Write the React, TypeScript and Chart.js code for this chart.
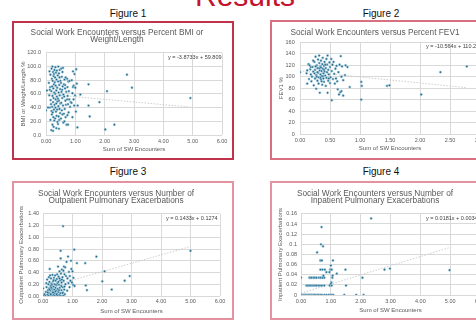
import React, { useEffect, useRef } from "react";
import { Chart, registerables } from "chart.js";

Chart.register(...registerables);

const FONT = '"Liberation Sans", Arial, Helvetica, sans-serif';

const pageTitle = "Results";
const figureLabels = ["Figure 1", "Figure 2", "Figure 3", "Figure 4"];
const xAxisTitle = "Sum of SW Encounters";

// ---------- Figure 1 ----------
const fig1Title = ["Social Work Encounters versus Percent BMI or", "Weight/Length"];
const fig1YTitle = "BMI or Weight/Length %";
const fig1Equation = "y = -3.8733x + 59.809";
const fig1Slope = -3.8733;
const fig1Intercept = 59.809;
const fig1XTicks = [0, 6, 1];
const fig1YTicks = [0, 120, 20];
const fig1Points: [number, number][] = [
  [0.12, 93], [0.15, 88], [0.1, 76], [0.14, 70], [0.18, 64], [0.11, 58], [0.16, 51], [0.13, 40],
  [0.19, 35], [0.17, 45], [0.2, 30], [0.15, 22], [0.18, 7], [0.2, 82], [0.19, 97], [0.13, 66],
  [0.22, 100], [0.24, 92], [0.26, 86], [0.23, 79], [0.27, 74], [0.21, 71], [0.25, 68], [0.28, 62],
  [0.22, 57], [0.26, 54], [0.24, 48], [0.29, 44], [0.21, 41], [0.27, 37], [0.23, 33], [0.25, 26],
  [0.28, 21], [0.22, 15], [0.26, 12], [0.24, 6], [0.29, 95], [0.27, 89], [0.3, 77],
  [0.32, 99], [0.34, 91], [0.31, 84], [0.36, 81], [0.33, 72], [0.38, 69], [0.35, 65], [0.31, 60],
  [0.37, 56], [0.33, 52], [0.39, 49], [0.35, 46], [0.32, 40], [0.38, 37], [0.34, 34], [0.36, 28],
  [0.31, 24], [0.39, 19], [0.35, 10], [0.4, 87], [0.37, 94],
  [0.42, 100], [0.44, 90], [0.46, 84], [0.41, 78], [0.45, 73], [0.48, 67], [0.43, 62], [0.47, 58],
  [0.41, 53], [0.44, 50], [0.49, 46], [0.42, 42], [0.46, 38], [0.48, 32], [0.43, 27], [0.45, 22],
  [0.41, 16], [0.44, 9], [0.49, 79], [0.47, 95],
  [0.52, 97], [0.56, 92], [0.58, 98], [0.54, 85], [0.51, 76], [0.57, 71], [0.53, 63], [0.59, 59],
  [0.55, 54], [0.52, 47], [0.58, 43], [0.54, 36], [0.56, 30], [0.51, 24], [0.59, 18], [0.55, 66],
  [0.63, 81], [0.67, 84], [0.61, 74], [0.65, 68], [0.69, 63], [0.62, 56], [0.66, 50], [0.68, 44],
  [0.64, 38], [0.61, 31], [0.67, 26], [0.63, 20], [0.7, 15], [0.65, 73],
  [0.72, 82], [0.76, 78], [0.73, 70], [0.78, 64], [0.74, 57], [0.72, 52], [0.79, 52], [0.75, 45],
  [0.82, 41], [0.77, 33], [0.73, 29], [0.8, 79], [0.84, 48],
  [0.88, 80], [0.92, 93], [0.97, 89], [0.94, 72], [0.92, 70], [0.9, 61], [0.94, 52], [0.87, 47],
  [0.96, 43], [1.0, 69], [1.03, 96], [1.05, 75], [1.02, 34], [1.08, 43], [1.07, 11], [1.17, 59],
  [0.99, 58], [0.9, 26],
  [0.0, 36], [0.03, 65], [0.07, 40],
  [1.45, 74], [1.45, 43], [1.49, 27], [1.82, 48], [2.08, 64], [2.02, 8], [2.33, 15], [2.76, 88],
  [2.93, 69], [4.92, 54], [0.75, 15],
];

// ---------- Figure 2 ----------
const fig2Title = ["Social Work Encounters versus Percent FEV1"];
const fig2YTitle = "FEV1 %";
const fig2Equation = "y = -10.564x + 110.26";
const fig2Slope = -10.564;
const fig2Intercept = 110.26;
const fig2XTicks = [0, 3, 0.5];
const fig2YTicks = [0, 160, 20];
const fig2Points: [number, number][] = [
  [0.0, 108], [0.12, 88], [0.12, 111], [0.11, 106], [0.14, 122], [0.16, 120], [0.15, 96], [0.17, 113],
  [0.18, 104], [0.2, 100], [0.19, 92], [0.21, 117], [0.22, 109], [0.23, 85], [0.24, 126], [0.25, 112],
  [0.25, 97], [0.26, 135], [0.27, 103], [0.27, 79], [0.28, 120], [0.29, 115], [0.29, 93], [0.3, 130],
  [0.3, 107], [0.31, 99], [0.31, 88], [0.32, 137], [0.32, 124], [0.33, 111], [0.33, 72], [0.34, 104],
  [0.34, 118], [0.35, 95], [0.35, 128], [0.36, 110], [0.36, 101], [0.37, 86], [0.37, 122], [0.38, 114],
  [0.38, 133], [0.39, 106], [0.39, 97], [0.4, 119], [0.4, 91], [0.41, 109], [0.41, 126], [0.42, 102],
  [0.43, 115], [0.43, 84], [0.44, 98], [0.45, 121], [0.45, 108], [0.46, 137], [0.46, 72], [0.47, 93],
  [0.47, 112], [0.48, 104], [0.49, 125], [0.5, 89], [0.5, 117], [0.51, 99], [0.52, 131], [0.53, 59],
  [0.53, 110], [0.54, 121], [0.55, 96], [0.56, 126], [0.57, 105], [0.58, 88], [0.59, 114], [0.6, 97],
  [0.61, 119], [0.62, 92], [0.63, 78], [0.64, 108], [0.65, 69], [0.66, 121], [0.67, 73], [0.68, 136],
  [0.69, 75], [0.69, 100], [0.7, 118], [0.72, 67], [0.72, 94], [0.75, 103], [0.76, 120], [0.79, 117],
  [0.83, 82], [1.02, 91], [1.03, 84], [1.02, 60], [1.45, 84], [1.49, 85], [2.02, 69], [2.34, 108],
  [2.78, 118],
  [0.22, 128], [0.18, 117], [0.26, 118], [0.28, 100], [0.32, 115], [0.36, 92], [0.4, 112], [0.44, 131],
  [0.48, 97], [0.24, 106], [0.29, 108], [0.34, 98], [0.38, 101], [0.42, 121], [0.35, 116],
];

// ---------- Figure 3 ----------
const fig3Title = ["Social Work Encounters versus Number of", "Outpatient Pulmonary Exacerbations"];
const fig3YTitle = "Outpatient Pulmonary Exacerbations";
const fig3Equation = "y = 0.1433x + 0.1274";
const fig3Slope = 0.1433;
const fig3Intercept = 0.1274;
const fig3XTicks = [0, 6, 1];
const fig3YTicks = [0, 1.4, 0.2];
const fig3Points: [number, number][] = [
  [0, 0.01], [0, 0.13], [0.05, 0.03], [0.08, 0.0], [0.1, 0.07], [0.12, 0.15], [0.14, 0.28], [0.15, 0.02],
  [0.17, 0.1], [0.18, 0.2], [0.2, 0.05], [0.21, 0.13], [0.22, 0.24], [0.23, 0.46], [0.24, 0.0], [0.25, 0.09],
  [0.26, 0.17], [0.27, 0.3], [0.28, 0.04], [0.29, 0.21], [0.3, 0.12], [0.31, 0.0], [0.32, 0.36], [0.33, 0.08],
  [0.34, 0.25], [0.35, 0.16], [0.36, 0.02], [0.37, 0.31], [0.38, 0.11], [0.39, 0.2], [0.4, 0.05], [0.41, 0.35],
  [0.42, 0.14], [0.43, 0.26], [0.44, 0.0], [0.45, 0.09], [0.46, 0.18], [0.47, 0.29], [0.48, 0.04], [0.49, 0.22],
  [0.5, 0.12], [0.51, 0.5], [0.52, 0.07], [0.53, 0.33], [0.54, 0.19], [0.55, 0.02], [0.56, 0.42], [0.57, 0.14],
  [0.58, 0.27], [0.59, 0.05], [0.6, 0.64], [0.6, 0.77], [0.61, 0.38], [0.62, 0.1], [0.63, 0.23], [0.64, 0.45],
  [0.65, 0.0], [0.66, 0.32], [0.67, 0.15], [0.68, 1.19], [0.68, 0.06], [0.69, 0.43], [0.7, 0.26], [0.71, 0.5],
  [0.72, 0.11], [0.73, 0.37], [0.74, 0.03], [0.75, 0.49], [0.76, 0.2], [0.78, 0.34], [0.8, 0.58], [0.82, 0.09],
  [0.83, 0.3], [0.85, 0.67], [0.86, 0.22], [0.88, 0.41], [0.9, 0.15], [0.91, 0.34], [0.93, 0.26], [0.95, 0.6],
  [0.96, 0.46], [0.98, 0.23], [1.0, 0.42], [1.02, 0.19], [1.03, 0.31], [1.06, 0.79], [1.07, 0.17], [1.15, 0.56],
  [1.43, 0.56], [1.45, 0.18], [1.49, 0.1], [1.81, 0.67], [2.01, 0.25], [2.09, 0.42], [2.33, 0.11], [2.77, 0.26],
  [2.94, 0.34], [5.0, 0.77],
  [0.16, 0.06], [0.19, 0.0], [0.22, 0.11], [0.26, 0.03], [0.3, 0.19], [0.34, 0.06], [0.38, 0.0], [0.42, 0.08],
  [0.46, 0.03], [0.5, 0.0], [0.54, 0.1], [0.58, 0.0], [0.62, 0.17], [0.66, 0.05], [0.7, 0.0], [0.73, 0.16],
  [0.24, 0.35], [0.28, 0.14], [0.36, 0.27], [0.44, 0.19], [0.48, 0.37], [0.52, 0.24], [0.56, 0.3], [0.64, 0.28],
  [0.11, 0.22], [0.2, 0.32],
];

// ---------- Figure 4 ----------
const fig4Title = ["Social Work Encounters versus Number of", "Inpatient Pulmonary Exacerbations"];
const fig4YTitle = "Inpatient Pulmonary Exacerbations";
const fig4Equation = "y = 0.0181x + 0.0034";
const fig4Slope = 0.0181;
const fig4Intercept = 0.0034;
const fig4XTicks = [0, 6, 1];
const fig4YTicks = [0, 0.16, 0.02];
const fig4Points: [number, number][] = [
  [0.0, 0], [0.03, 0], [0.08, 0], [0.12, 0], [0.15, 0], [0.18, 0], [0.22, 0], [0.25, 0], [0.28, 0], [0.32, 0],
  [0.35, 0], [0.38, 0], [0.42, 0], [0.45, 0], [0.5, 0], [0.55, 0], [0.6, 0], [0.65, 0], [0.7, 0], [0.78, 0],
  [0.85, 0], [0.92, 0], [0.98, 0], [1.03, 0], [1.08, 0], [1.45, 0], [1.85, 0], [2.1, 0],
  [0.18, 0.0185], [0.21, 0.0185], [0.25, 0.0185], [0.3, 0.0185], [0.34, 0.0185], [0.4, 0.0185], [0.44, 0.0185],
  [0.48, 0.0185], [0.52, 0.0185], [0.58, 0.0185], [0.64, 0.0185], [0.7, 0.0185], [0.78, 0.0185], [0.96, 0.0185],
  [1.03, 0.0185], [1.51, 0.0185],
  [0.0, 0.034], [0.28, 0.034], [0.31, 0.034], [0.36, 0.034], [0.42, 0.034], [0.47, 0.034], [0.52, 0.034],
  [0.6, 0.034], [0.66, 0.034], [0.72, 0.034], [0.78, 0.034], [1.05, 0.034], [2.06, 0.034],
  [0.65, 0.05], [0.72, 0.05], [0.8, 0.05], [0.98, 0.05], [1.03, 0.05], [1.49, 0.05], [2.8, 0.05],
  [2.98, 0.052], [4.98, 0.049], [1.2, 0.042], [1.0, 0.058], [0.65, 0.068], [0.7, 0.068], [1.07, 0.068],
  [0.54, 0.084], [0.67, 0.1], [0.74, 0.096], [0.69, 0.134], [2.35, 0.151], [0.95, 0.045], [1.02, 0.025],
  [1.0, 0.022], [0.85, 0.045], [1.06, 0.038], [0.75, 0.038],
];

const fmt1 = (v: number) => v.toFixed(1);
const fmt2 = (v: number) => v.toFixed(2);
const fmtInt = (v: number) => String(Math.round(v));
const fmtGeneral = (v: number) => String(parseFloat(v.toFixed(2)));

type Layout = {
  left: number; top: number; w: number; h: number; border: string;
  yW: number; xH: number; right: number; titleTop: number; titleBottom: number;
  yTitlePad: number; yTickPad: number; xTickPad: number; xTitlePad: number;
};

type Spec = {
  title: string[]; yTitle: string; equation: string; slope: number; intercept: number;
  points: [number, number][]; xTicks: number[]; yTicks: number[];
  xFmt: (v: number) => string; yFmt: (v: number) => string; layout: Layout;
};

const specs: Spec[] = [
  {
    title: fig1Title, yTitle: fig1YTitle, equation: fig1Equation, slope: fig1Slope, intercept: fig1Intercept,
    points: fig1Points, xTicks: fig1XTicks, yTicks: fig1YTicks, xFmt: fmt2, yFmt: fmt1,
    layout: { left: 12, top: 21, w: 222, h: 139, border: "#bf344c", yW: 34, xH: 25, right: 12, titleTop: 8, titleBottom: 8.9, yTitlePad: 7.4, yTickPad: 5, xTickPad: 3.4, xTitlePad: 7.4 },
  },
  {
    title: fig2Title, yTitle: fig2YTitle, equation: fig2Equation, slope: fig2Slope, intercept: fig2Intercept,
    points: fig2Points, xTicks: fig2XTicks, yTicks: fig2YTicks, xFmt: fmt2, yFmt: fmtInt,
    layout: { left: 270, top: 20, w: 222, h: 140, border: "#d8707f", yW: 30, xH: 26, right: 12, titleTop: 9, titleBottom: 5.95, yTitlePad: 7.4, yTickPad: 5.3, xTickPad: 3.4, xTitlePad: 8.4 },
  },
  {
    title: fig3Title, yTitle: fig3YTitle, equation: fig3Equation, slope: fig3Slope, intercept: fig3Intercept,
    points: fig3Points, xTicks: fig3XTicks, yTicks: fig3YTicks, xFmt: fmt2, yFmt: fmt2,
    layout: { left: 12, top: 181, w: 222, h: 139, border: "#e4929f", yW: 31, xH: 24, right: 14, titleTop: 9, titleBottom: 8.9, yTitlePad: 6.1, yTickPad: 4, xTickPad: 2.4, xTitlePad: 5.4 },
  },
  {
    title: fig4Title, yTitle: fig4YTitle, equation: fig4Equation, slope: fig4Slope, intercept: fig4Intercept,
    points: fig4Points, xTicks: fig4XTicks, yTicks: fig4YTicks, xFmt: fmt2, yFmt: fmtGeneral,
    layout: { left: 270, top: 181, w: 222, h: 139, border: "#e4929f", yW: 31, xH: 25, right: 12, titleTop: 9, titleBottom: 8.9, yTitlePad: 7.1, yTickPad: 4, xTickPad: 3.4, xTitlePad: 6.4 },
  },
];

function makeConfig(s: Spec): any {
  const L = s.layout;
  const xs = s.points.map((p) => p[0]);
  const x0 = Math.min(...xs);
  const x1 = Math.max(...xs);
  const equationPlugin = {
    id: "equationLabel",
    afterDatasetsDraw(chart: any) {
      const { ctx, chartArea } = chart;
      ctx.save();
      ctx.font = `5.5px ${FONT}`;
      ctx.fillStyle = "#404040";
      ctx.textAlign = "left";
      ctx.textBaseline = "middle";
      ctx.fillText(s.equation, chartArea.right - 54, chartArea.top + 4.5);
      ctx.restore();
    },
  };
  return {
    type: "scatter",
    data: {
      datasets: [
        {
          data: s.points.map((p) => ({ x: p[0], y: p[1] })),
          pointRadius: 1.15,
          pointBackgroundColor: "#1f6585",
          pointBorderColor: "#a9d2e4",
          pointBorderWidth: 0.6,
        },
        {
          type: "line",
          data: [
            { x: x0, y: s.intercept + s.slope * x0 },
            { x: x1, y: s.intercept + s.slope * x1 },
          ],
          borderColor: "#c8c8c8",
          borderWidth: 0.9,
          borderDash: [1.5, 1.5],
          pointRadius: 0,
          fill: false,
        },
      ],
    },
    options: {
      animation: false,
      responsive: false,
      events: [],
      layout: { padding: { left: 0, top: 0, bottom: 0, right: L.right } },
      plugins: {
        legend: { display: false },
        tooltip: { enabled: false },
        title: {
          display: true,
          text: s.title,
          color: "#595959",
          font: { family: FONT, size: 8.3, weight: "normal", lineHeight: 0.9 },
          padding: { top: L.titleTop, bottom: L.titleBottom },
        },
      },
      scales: {
        x: {
          type: "linear",
          min: s.xTicks[0],
          max: s.xTicks[1],
          ticks: {
            stepSize: s.xTicks[2],
            callback: (v: any) => s.xFmt(Number(v)),
            color: "#595959",
            font: { family: FONT, size: 5.5 },
            padding: L.xTickPad,
            maxRotation: 0,
            autoSkip: false,
          },
          grid: { color: "#d9d9d9", drawTicks: false, lineWidth: 1 },
          border: { display: false },
          title: {
            display: true,
            text: xAxisTitle,
            color: "#595959",
            font: { family: FONT, size: 6 },
            padding: { top: 0, bottom: L.xTitlePad },
          },
          afterFit: (sc: any) => { sc.height = L.xH; },
        },
        y: {
          type: "linear",
          min: s.yTicks[0],
          max: s.yTicks[1],
          ticks: {
            stepSize: s.yTicks[2],
            callback: (v: any) => s.yFmt(Number(v)),
            color: "#595959",
            font: { family: FONT, size: 5.5 },
            padding: L.yTickPad,
            autoSkip: false,
          },
          grid: { color: "#d9d9d9", drawTicks: false, lineWidth: 1 },
          border: { display: false },
          title: {
            display: true,
            text: s.yTitle,
            color: "#595959",
            font: { family: FONT, size: 6 },
            padding: { top: L.yTitlePad, bottom: 0 },
          },
          afterFit: (sc: any) => { sc.width = L.yW; },
        },
      },
    },
    plugins: [equationPlugin],
  };
}

function Panel({ spec }: { spec: Spec }) {
  const ref = useRef<HTMLCanvasElement | null>(null);
  useEffect(() => {
    if (!ref.current) return;
    const chart = new Chart(ref.current, makeConfig(spec));
    return () => chart.destroy();
  }, [spec]);
  const L = spec.layout;
  return (
    <>
      <canvas
        ref={ref}
        width={L.w}
        height={L.h}
        style={{ position: "absolute", left: L.left, top: L.top, width: L.w, height: L.h }}
      />
      <div
        style={{
          position: "absolute", left: L.left, top: L.top, width: L.w, height: L.h,
          boxSizing: "border-box", border: `2px solid ${L.border}`, pointerEvents: "none",
        }}
      />
    </>
  );
}

const labelPos = [
  [128, 14], [381, 14], [128, 172], [381, 172],
];

export default function App() {
  return (
    <div
      style={{
        position: "fixed", left: 0, top: 0, width: 476, height: 320, overflow: "hidden",
        background: "#ffffff", fontFamily: FONT,
      }}
    >
      <div
        style={{
          position: "absolute", left: 195, top: -19, fontSize: 30, lineHeight: "30px",
          color: "#c4122f", whiteSpace: "nowrap",
        }}
      >
        {pageTitle}
      </div>
      {figureLabels.map((t, i) => (
        <div
          key={t}
          style={{
            position: "absolute", left: labelPos[i][0] - 50, top: labelPos[i][1] - 6, width: 100,
            textAlign: "center", fontSize: 10, lineHeight: "12px", color: "#111111",
          }}
        >
          {t}
        </div>
      ))}
      {specs.map((s, i) => (
        <Panel key={i} spec={s} />
      ))}
    </div>
  );
}
